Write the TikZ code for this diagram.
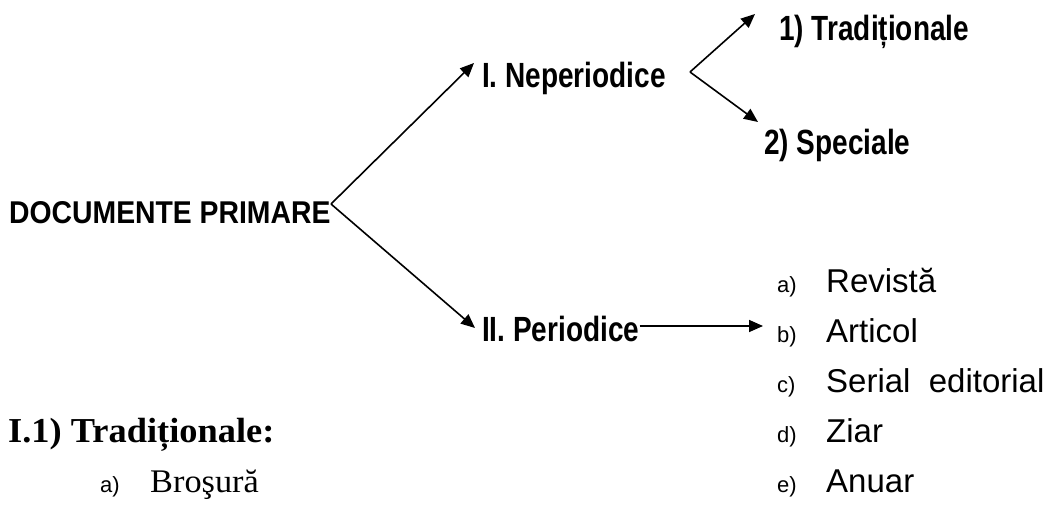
\documentclass[tikz,border=0pt]{standalone}
\usepackage{fontspec}
\setmainfont{Liberation Serif}
\setsansfont{Liberation Sans}
\newfontfamily\nb[FakeStretch=0.8]{Liberation Sans}
\newfontfamily\nbw[FakeStretch=0.9]{Liberation Sans}
\newfontfamily\serw[FakeStretch=1.04]{Liberation Serif}
\usetikzlibrary{arrows.meta}
\tikzset{
  head/.style={inner sep=0pt, anchor=base west, font=\nb\bfseries\fontsize{35}{38}\selectfont},
  item/.style={inner sep=0pt, anchor=base west, font=\sffamily\fontsize{33}{36}\selectfont},
  lbl/.style={inner sep=0pt, anchor=base west, font=\sffamily\fontsize{22}{26}\selectfont},
  serhead/.style={inner sep=0pt, anchor=base west, font=\serw\bfseries\fontsize{35}{38}\selectfont},
  seritem/.style={inner sep=0pt, anchor=base west, font=\serw\fontsize{33}{36}\selectfont},
  arr/.style={line width=1.6pt, -{Triangle[length=14pt,width=12pt]}}
}
\begin{document}
\begin{tikzpicture}[x=1pt,y=-1pt]
\useasboundingbox (0,0) rectangle (1057,505);
% main nodes
\node[head, font=\nbw\bfseries\fontsize{31.5}{34}\selectfont] (dp) at (9,223) {DOCUMENTE PRIMARE};
\node[head] (nep) at (482,88) {I. Neperiodice};
\node[head] (trad) at (779,41) {1) Tradiționale};
\node[head] (spec) at (764,155) {2) Speciale};
\node[head] (per) at (482,341) {II. Periodice};
% connector points
\coordinate (apex) at (331,204);
\coordinate (fork) at (690,72);
\coordinate (nepin) at (474,63);
\coordinate (perin) at (475,328);
\coordinate (tradin) at (755,14);
\coordinate (specin) at (758,122);
\coordinate (listin) at (763,326);
\draw[arr] (apex) -- (nepin);
\draw[arr] (apex) -- (perin);
\draw[arr] (fork) -- (tradin);
\draw[arr] (fork) -- (specin);
\draw[arr] (per.east |- listin) -- (listin);
% list of periodicals
\node[lbl] (la) at (777,292) {a)};
\node[item] (ia) at (826,292) {Revistă};
\node[lbl] (lb) at (777,342) {b)};
\node[item] (ib) at (826,342) {Articol};
\node[lbl] (lc) at (777,392) {c)};
\node[item] (ic) at (826,392) {Serial\ \ editorial};
\node[lbl] (ld) at (777,442) {d)};
\node[item] (id) at (826,442) {Ziar};
\node[lbl] (le) at (777,492) {e)};
\node[item] (ie) at (826,492) {Anuar};
% traditional docs
\node[serhead] (t1) at (8,442) {I.1) Tradiționale:};
\node[lbl] (lba) at (100,492) {a)};
\node[seritem] (bro) at (150,492) {Broşură};
\end{tikzpicture}
\end{document}
